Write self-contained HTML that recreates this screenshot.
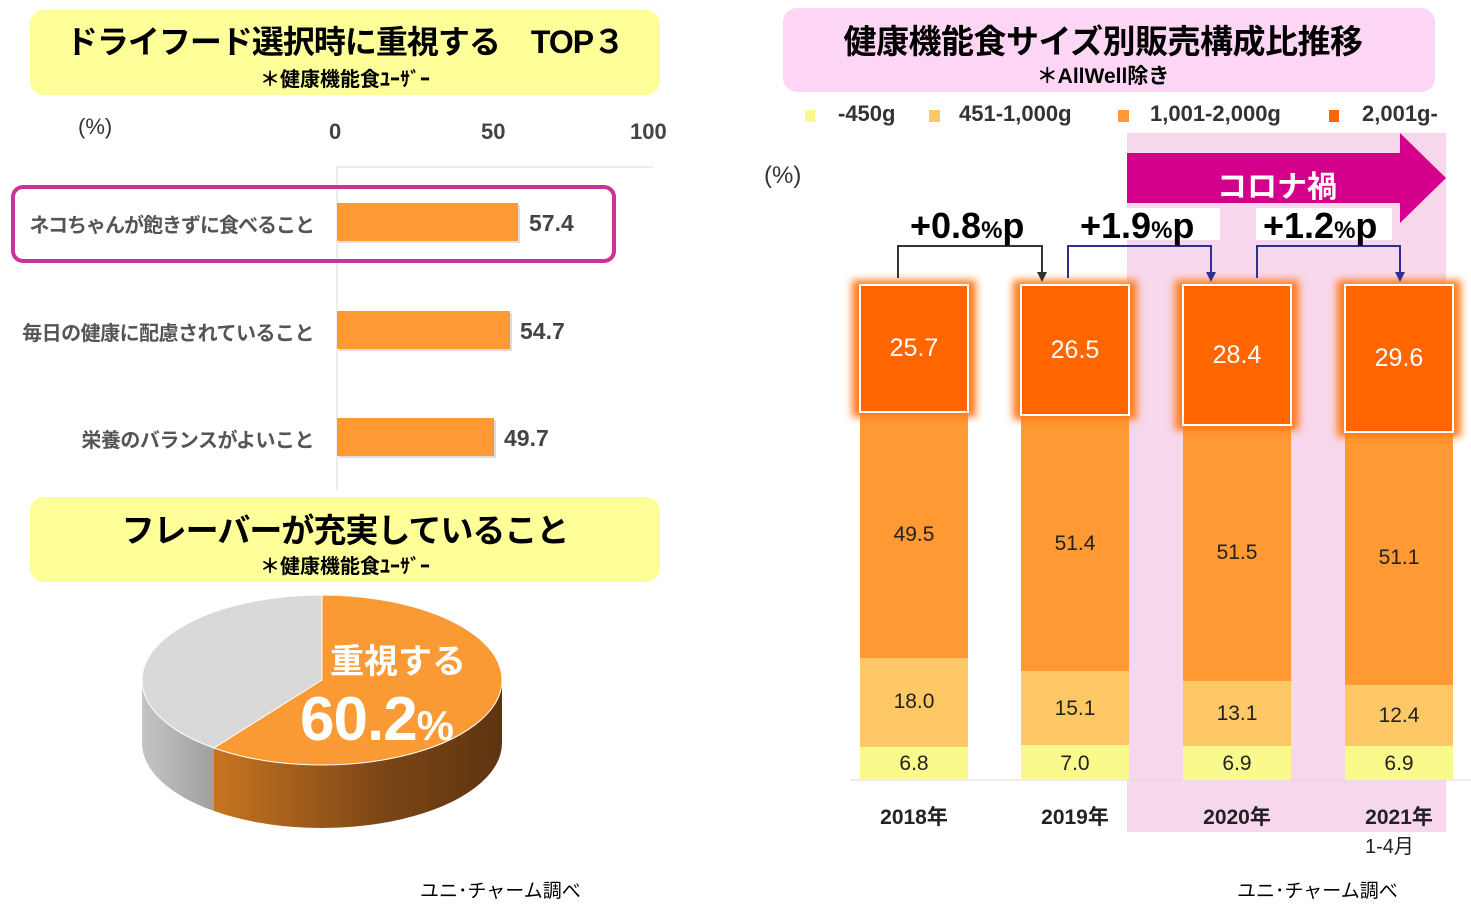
<!DOCTYPE html>
<html><head><meta charset="utf-8"><style>
body{margin:0;width:1471px;height:915px;background:#fff;position:relative;overflow:hidden;font-family:"Liberation Sans","Noto Sans CJK JP",sans-serif;}
.a{position:absolute;white-space:nowrap;}
.b{font-weight:bold;}
</style></head><body>
<svg class="a" style="left:0;top:0" width="1471" height="915">
<defs>
<linearGradient id="og" x1="0" x2="1"><stop offset="0" stop-color="#c8741f"/><stop offset="0.6" stop-color="#7a4515"/><stop offset="1" stop-color="#5e3410"/></linearGradient>
<linearGradient id="gg" x1="0" x2="1"><stop offset="0" stop-color="#c4c4c4"/><stop offset="1" stop-color="#a0a0a0"/></linearGradient>
<filter id="gl" x="-20%" y="-20%" width="140%" height="140%"><feGaussianBlur stdDeviation="4"/></filter>
</defs>
<rect x="30" y="10" width="630" height="85" rx="14" fill="#ffff99"/>
<rect x="30" y="497" width="630" height="85" rx="14" fill="#ffff99"/>
<rect x="783" y="8" width="652" height="84" rx="14" fill="#fcd6f4"/>
<line x1="337" y1="167" x2="653" y2="167" stroke="#d9d9d9"/>
<line x1="337" y1="167" x2="337" y2="490" stroke="#d9d9d9"/>
<rect x="339" y="205" width="181" height="38" fill="#bbb" opacity=".5"/>
<rect x="337" y="203" width="181" height="38" fill="#ff9933"/>
<rect x="339" y="313" width="173" height="38" fill="#bbb" opacity=".5"/>
<rect x="337" y="311" width="173" height="38" fill="#ff9933"/>
<rect x="339" y="420" width="157" height="38" fill="#bbb" opacity=".5"/>
<rect x="337" y="418" width="157" height="38" fill="#ff9933"/>
<rect x="13" y="187" width="601" height="74" rx="10" fill="none" stroke="#cc3399" stroke-width="4"/>
<path d="M142,680 A180,85 0 0 0 214,748 L214,811 A180,85 0 0 1 142,743 Z" fill="url(#gg)"/>
<path d="M214,748 A180,85 0 0 0 502,680 L502,743 A180,85 0 0 1 214,811 Z" fill="url(#og)"/>
<path d="M322,680 L322,595 A180,85 0 0 0 142,680 A180,85 0 0 0 214,748Z" fill="#d9d9d9" stroke="#fff" stroke-width="1"/>
<path d="M322,680 L322,595 A180,85 0 0 1 502,680 A180,85 0 0 1 214,748Z" fill="#f99a35" stroke="#fff" stroke-width="1"/>
<rect x="1127" y="133" width="319" height="699" fill="#f7d7ec"/>
<path d="M1127,153 L1400,153 L1400,133 L1446,178 L1400,223 L1400,203 L1127,203Z" fill="#d4008c"/>
<line x1="850" y1="780" x2="1471" y2="780" stroke="#d9d9d9"/>
<g>
<rect x="860" y="747" width="108" height="33" fill="#fafa8c"/><rect x="860" y="658" width="108" height="89" fill="#fdc865"/><rect x="860" y="412" width="108" height="246" fill="#ff9933"/>
<rect x="852" y="280" width="124" height="137" fill="#ff7a1a" filter="url(#gl)"/><rect x="860" y="285" width="108" height="127" fill="#ff6600" stroke="#fff" stroke-width="2"/>
<rect x="1021" y="745" width="108" height="35" fill="#fafa8c"/><rect x="1021" y="671" width="108" height="74" fill="#fdc865"/><rect x="1021" y="415" width="108" height="256" fill="#ff9933"/>
<rect x="1013" y="280" width="124" height="140" fill="#ff7a1a" filter="url(#gl)"/><rect x="1021" y="285" width="108" height="130" fill="#ff6600" stroke="#fff" stroke-width="2"/>
<rect x="1183" y="746" width="108" height="34" fill="#fafa8c"/><rect x="1183" y="681" width="108" height="65" fill="#fdc865"/><rect x="1183" y="425" width="108" height="256" fill="#ff9933"/>
<rect x="1175" y="280" width="124" height="150" fill="#ff7a1a" filter="url(#gl)"/><rect x="1183" y="285" width="108" height="140" fill="#ff6600" stroke="#fff" stroke-width="2"/>
<rect x="1345" y="746" width="108" height="34" fill="#fafa8c"/><rect x="1345" y="685" width="108" height="61" fill="#fdc865"/><rect x="1345" y="432" width="108" height="253" fill="#ff9933"/>
<rect x="1337" y="280" width="124" height="157" fill="#ff7a1a" filter="url(#gl)"/><rect x="1345" y="285" width="108" height="147" fill="#ff6600" stroke="#fff" stroke-width="2"/>
</g>
<rect x="1040" y="208" width="180" height="32" fill="#fff"/>
<rect x="1256" y="208" width="136" height="32" fill="#fff"/>
<polyline points="898,278 898,246 1042,246 1042,275" fill="none" stroke="#333" stroke-width="2"/><path d="M1037,272 L1047,272 L1042,282Z" fill="#333"/>
<polyline points="1068,278 1068,246 1211,246 1211,275" fill="none" stroke="#2e3192" stroke-width="2"/><path d="M1206,272 L1216,272 L1211,282Z" fill="#2e3192"/>
<polyline points="1257,278 1257,246 1400,246 1400,275" fill="none" stroke="#2e3192" stroke-width="2"/><path d="M1395,272 L1405,272 L1400,282Z" fill="#2e3192"/>
<rect x="805" y="110" width="10" height="12" fill="#fafa8c"/>
<rect x="929" y="110" width="11" height="12" fill="#fdc865"/>
<rect x="1118" y="110" width="11" height="12" fill="#ff9933"/>
<rect x="1329" y="110" width="10" height="12" fill="#ff6600"/>
</svg>
<div class="a b" style="left:30px;top:17px;width:630px;text-align:center;font-size:32px;letter-spacing:-1px">ドライフード選択時に重視する　TOP３</div>
<div class="a b" style="left:30px;top:63px;width:630px;text-align:center;font-size:20px">＊健康機能食ﾕｰｻﾞｰ</div>
<div class="a b" style="left:30px;top:504px;width:630px;text-align:center;font-size:33px;letter-spacing:-1px">フレーバーが充実していること</div>
<div class="a b" style="left:30px;top:550px;width:630px;text-align:center;font-size:20px">＊健康機能食ﾕｰｻﾞｰ</div>
<div class="a b" style="left:783px;top:15px;width:640px;text-align:center;font-size:33px;letter-spacing:-0.5px">健康機能食サイズ別販売構成比推移</div>
<div class="a b" style="left:783px;top:60px;width:640px;text-align:center;font-size:21px">＊AllWell除き</div>
<div class="a" style="left:78px;top:114px;font-size:22px;color:#333">(%)</div>
<div class="a b" style="left:329px;top:119px;font-size:22px;color:#444">0</div>
<div class="a b" style="left:481px;top:119px;font-size:22px;color:#444">50</div>
<div class="a b" style="left:630px;top:119px;font-size:22px;color:#444">100</div>
<div class="a b" style="left:0;top:209px;width:314px;text-align:right;font-size:20px;color:#555;letter-spacing:-1px">ネコちゃんが飽きずに食べること</div>
<div class="a b" style="left:0;top:317px;width:314px;text-align:right;font-size:20px;color:#555;letter-spacing:-0.5px">毎日の健康に配慮されていること</div>
<div class="a b" style="left:0;top:424px;width:314px;text-align:right;font-size:20px;color:#555;letter-spacing:-0.5px">栄養のバランスがよいこと</div>
<div class="a b" style="left:529px;top:210px;font-size:23px;color:#444">57.4</div>
<div class="a b" style="left:520px;top:318px;font-size:23px;color:#444">54.7</div>
<div class="a b" style="left:504px;top:425px;font-size:23px;color:#444">49.7</div>
<div class="a b" style="left:330px;top:634px;font-size:34px;color:#fff">重視する</div>
<div class="a b" style="left:300px;top:684px;font-size:62px;color:#fff;letter-spacing:-1px">60.2<span style="font-size:42px">%</span></div>
<div class="a" style="left:420px;top:876px;font-size:19px">ユニ･チャーム調べ</div>
<div class="a" style="left:1237px;top:876px;font-size:19px">ユニ･チャーム調べ</div>
<div class="a b" style="left:838px;top:101px;font-size:22px;color:#333">-450g</div>
<div class="a b" style="left:959px;top:101px;font-size:22px;color:#333">451-1,000g</div>
<div class="a b" style="left:1150px;top:101px;font-size:22px;color:#333">1,001-2,000g</div>
<div class="a b" style="left:1362px;top:101px;font-size:22px;color:#333">2,001g-</div>
<div class="a" style="left:764px;top:162px;font-size:24px;color:#333">(%)</div>
<div class="a b" style="left:1217px;top:162px;font-size:30px;color:#fff">コロナ禍</div>
<div class="a b" style="left:910px;top:205px;font-size:36px">+0.8<span style="font-size:24px">%</span>p</div>
<div class="a b" style="left:1080px;top:205px;font-size:36px">+1.9<span style="font-size:24px">%</span>p</div>
<div class="a b" style="left:1263px;top:205px;font-size:36px">+1.2<span style="font-size:24px">%</span>p</div>
<div class="a" style="left:860px;top:334px;width:108px;text-align:center;font-size:25px;color:#fff">25.7</div>
<div class="a" style="left:1021px;top:336px;width:108px;text-align:center;font-size:25px;color:#fff">26.5</div>
<div class="a" style="left:1183px;top:341px;width:108px;text-align:center;font-size:25px;color:#fff">28.4</div>
<div class="a" style="left:1345px;top:344px;width:108px;text-align:center;font-size:25px;color:#fff">29.6</div>
<div class="a" style="left:860px;top:523px;width:108px;text-align:center;font-size:21px;color:#222">49.5</div>
<div class="a" style="left:1021px;top:532px;width:108px;text-align:center;font-size:21px;color:#222">51.4</div>
<div class="a" style="left:1183px;top:541px;width:108px;text-align:center;font-size:21px;color:#222">51.5</div>
<div class="a" style="left:1345px;top:546px;width:108px;text-align:center;font-size:21px;color:#222">51.1</div>
<div class="a" style="left:860px;top:690px;width:108px;text-align:center;font-size:21px;color:#222">18.0</div>
<div class="a" style="left:1021px;top:697px;width:108px;text-align:center;font-size:21px;color:#222">15.1</div>
<div class="a" style="left:1183px;top:702px;width:108px;text-align:center;font-size:21px;color:#222">13.1</div>
<div class="a" style="left:1345px;top:704px;width:108px;text-align:center;font-size:21px;color:#222">12.4</div>
<div class="a" style="left:860px;top:752px;width:108px;text-align:center;font-size:21px;color:#222">6.8</div>
<div class="a" style="left:1021px;top:752px;width:108px;text-align:center;font-size:21px;color:#222">7.0</div>
<div class="a" style="left:1183px;top:752px;width:108px;text-align:center;font-size:21px;color:#222">6.9</div>
<div class="a" style="left:1345px;top:752px;width:108px;text-align:center;font-size:21px;color:#222">6.9</div>
<div class="a b" style="left:860px;top:801px;width:108px;text-align:center;font-size:21px;color:#222">2018年</div>
<div class="a b" style="left:1021px;top:801px;width:108px;text-align:center;font-size:21px;color:#222">2019年</div>
<div class="a b" style="left:1183px;top:801px;width:108px;text-align:center;font-size:21px;color:#222">2020年</div>
<div class="a b" style="left:1345px;top:801px;width:108px;text-align:center;font-size:21px;color:#222">2021年</div>
<div class="a" style="left:1365px;top:830px;font-size:20px;color:#222">1-4月</div>
</body></html>
